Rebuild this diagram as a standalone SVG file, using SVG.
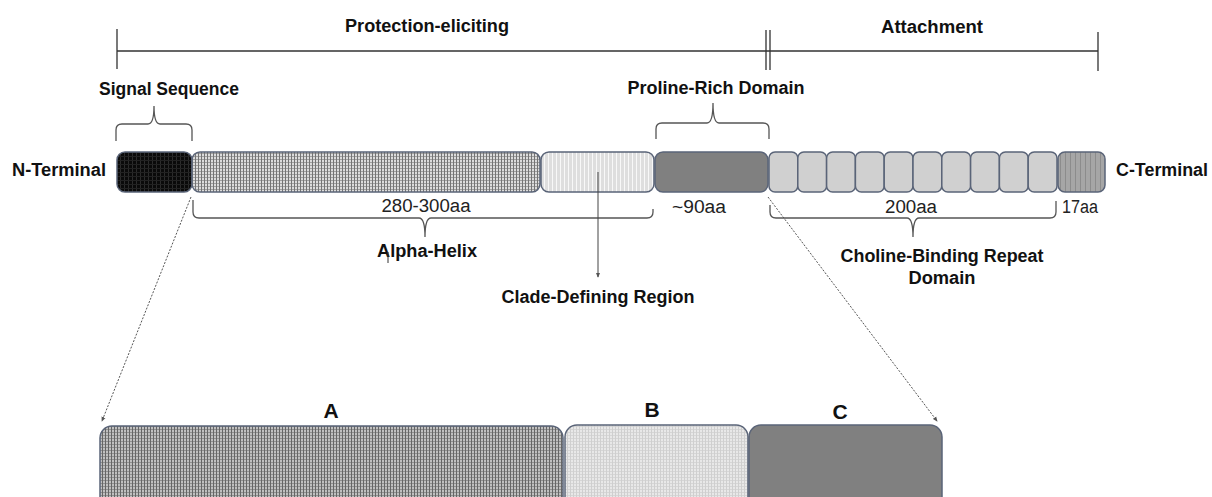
<svg xmlns="http://www.w3.org/2000/svg" width="1212" height="497" viewBox="0 0 1212 497">
<style>
.lbl{font-family:"Liberation Sans",Arial,sans-serif;font-weight:bold;font-size:18px;fill:#111}
.num{font-family:"Liberation Sans",Arial,sans-serif;font-size:18px;fill:#222}
.big{font-size:21px}
.box{stroke:#5a6478;stroke-width:1.5}
.rule{stroke:#333;stroke-width:1.3;fill:none}
.brace{stroke:#555;stroke-width:1.3;fill:none}
.dot{stroke:#555;stroke-width:1;stroke-dasharray:2 1.5;fill:none}
</style>
<defs>
<pattern id="pBlack" width="4" height="4" patternUnits="userSpaceOnUse">
<rect width="4" height="4" fill="#0a0a0a"/><rect width="1" height="4" fill="#2c2c2c"/><rect width="4" height="1" fill="#222"/>
</pattern>
<pattern id="pAlpha" width="3" height="3" patternUnits="userSpaceOnUse">
<rect width="3" height="3" fill="#dcdcdc"/><rect width="1" height="3" fill="#747474"/><rect x="1" width="2" height="1" fill="#a0a0a0"/>
</pattern>
<pattern id="pClade" width="4" height="4" patternUnits="userSpaceOnUse">
<rect width="4" height="4" fill="#dedede"/><rect width="1" height="4" fill="#f8f8f8"/>
</pattern>
<pattern id="p17" width="5" height="5" patternUnits="userSpaceOnUse">
<rect width="5" height="5" fill="#a6a6a6"/><rect width="1" height="5" fill="#8c8c8c"/>
</pattern>
<pattern id="pA" width="3" height="3" patternUnits="userSpaceOnUse">
<rect width="3" height="3" fill="#c0c0c0"/><rect width="1" height="3" fill="#666"/><rect x="1" width="2" height="1" fill="#909090"/>
</pattern>
<pattern id="pB" width="3" height="3" patternUnits="userSpaceOnUse">
<rect width="3" height="3" fill="#e8e8e8"/><rect width="1" height="3" fill="#cfcfcf"/><rect x="1" width="2" height="1" fill="#d6d6d6"/>
</pattern>
<marker id="arr" viewBox="0 0 6 6" refX="5" refY="3" markerWidth="5" markerHeight="5" orient="auto">
<path d="M0,0.5 L6,3 L0,5.5 z" fill="#555"/>
</marker>
</defs>

<g id="scale">
<path class="rule" d="M117,51 H1098 M117,29 V69 M766,30 V70 M770,30 V70 M1098,32 V71"/>
<text class="lbl" x="427" y="32" text-anchor="middle" textLength="164" lengthAdjust="spacingAndGlyphs">Protection-eliciting</text>
<text class="lbl" x="932" y="33" text-anchor="middle" textLength="102" lengthAdjust="spacingAndGlyphs">Attachment</text>
</g>

<g id="n-terminal"><text class="lbl" x="12" y="176" textLength="94" lengthAdjust="spacingAndGlyphs">N-Terminal</text></g>
<g id="c-terminal"><text class="lbl" x="1116" y="176" textLength="92" lengthAdjust="spacingAndGlyphs">C-Terminal</text></g>

<g id="signal-sequence">
<rect class="box" x="117" y="152" width="75" height="40" rx="8" fill="url(#pBlack)"/>
<path class="brace" d="M116,141 V130 Q116,124 122,124 H148 Q154,124 154,106 Q154,124 160,124 H186 Q192,124 192,130 V141"/>
<text class="lbl" x="169" y="95" text-anchor="middle" textLength="140" lengthAdjust="spacingAndGlyphs">Signal Sequence</text>
</g>

<g id="alpha-helix">
<rect class="box" x="192" y="152" width="348" height="40" rx="8" fill="url(#pAlpha)"/>
<path class="brace" d="M193,200 V212 Q193,218 199,218 H419 Q425,218 425,237 Q425,218 431,218 H647 Q653,218 653,212 V209"/>
<text class="num" x="426" y="212" text-anchor="middle" textLength="89" lengthAdjust="spacingAndGlyphs">280-300aa</text>
<text class="lbl" x="427" y="257" text-anchor="middle" textLength="100" lengthAdjust="spacingAndGlyphs">Alpha-Helix</text>
<line x1="388" y1="252" x2="388" y2="263" stroke="#333" stroke-width="1"/>
</g>

<g id="clade-defining-region">
<rect class="box" x="541" y="152" width="113" height="40" rx="8" fill="url(#pClade)"/>
<text class="lbl" x="598" y="303" text-anchor="middle" textLength="193" lengthAdjust="spacingAndGlyphs">Clade-Defining Region</text>
</g>

<g id="proline-rich-domain">
<rect class="box" x="655" y="152" width="113" height="40" rx="8" fill="#808080"/>
<path class="brace" d="M656,139 V129 Q656,123 662,123 H707 Q713,123 713,103 Q713,123 719,123 H763 Q769,123 769,129 V139"/>
<text class="lbl" x="716" y="94" text-anchor="middle" textLength="177" lengthAdjust="spacingAndGlyphs">Proline-Rich Domain</text>
<text class="num" x="699" y="213" text-anchor="middle" textLength="54" lengthAdjust="spacingAndGlyphs">~90aa</text>
</g>

<g id="choline-binding-repeat-domain">
<rect class="box" x="769" y="152" width="28.8" height="40" rx="6" fill="#d0d0d0"/>
<rect class="box" x="797.8" y="152" width="28.8" height="40" rx="6" fill="#d0d0d0"/>
<rect class="box" x="826.6" y="152" width="28.8" height="40" rx="6" fill="#d0d0d0"/>
<rect class="box" x="855.4" y="152" width="28.8" height="40" rx="6" fill="#d0d0d0"/>
<rect class="box" x="884.2" y="152" width="28.8" height="40" rx="6" fill="#d0d0d0"/>
<rect class="box" x="913" y="152" width="28.8" height="40" rx="6" fill="#d0d0d0"/>
<rect class="box" x="941.8" y="152" width="28.8" height="40" rx="6" fill="#d0d0d0"/>
<rect class="box" x="970.6" y="152" width="28.8" height="40" rx="6" fill="#d0d0d0"/>
<rect class="box" x="999.4" y="152" width="28.8" height="40" rx="6" fill="#d0d0d0"/>
<rect class="box" x="1028.2" y="152" width="28.8" height="40" rx="6" fill="#d0d0d0"/>
<path class="brace" d="M770,205 V212 Q770,218 776,218 H907 Q913,218 913,237 Q913,218 919,218 H1050 Q1056,218 1056,212 V201"/>
<text class="num" x="911" y="213" text-anchor="middle" textLength="52" lengthAdjust="spacingAndGlyphs">200aa</text>
<text class="lbl" x="942" y="262" text-anchor="middle" textLength="203" lengthAdjust="spacingAndGlyphs">Choline-Binding Repeat</text>
<text class="lbl" x="942" y="284" text-anchor="middle" textLength="67" lengthAdjust="spacingAndGlyphs">Domain</text>
</g>

<g id="c-terminal-tail">
<rect class="box" x="1058" y="152" width="47" height="40" rx="7" fill="url(#p17)"/>
<text class="num" x="1062" y="213" textLength="36" lengthAdjust="spacingAndGlyphs">17aa</text>
</g>

<g id="connectors">
<line class="dot" x1="191" y1="197" x2="102" y2="421" marker-end="url(#arr)"/>
<line class="dot" x1="768" y1="197" x2="937" y2="421" marker-end="url(#arr)"/>
<line x1="598" y1="172" x2="598" y2="277" stroke="#444" stroke-width="1" marker-end="url(#arr)"/>
</g>

<g id="part-a">
<rect class="box" x="100" y="426" width="463" height="90" rx="12" fill="url(#pA)"/>
<text class="lbl big" x="331" y="418" text-anchor="middle">A</text>
</g>
<g id="part-b">
<rect class="box" x="565" y="425" width="183" height="90" rx="12" fill="url(#pB)"/>
<text class="lbl big" x="652" y="417" text-anchor="middle">B</text>
</g>
<g id="part-c">
<rect class="box" x="749" y="425" width="193" height="90" rx="12" fill="#808080"/>
<text class="lbl big" x="840" y="419" text-anchor="middle">C</text>
</g>
</svg>
